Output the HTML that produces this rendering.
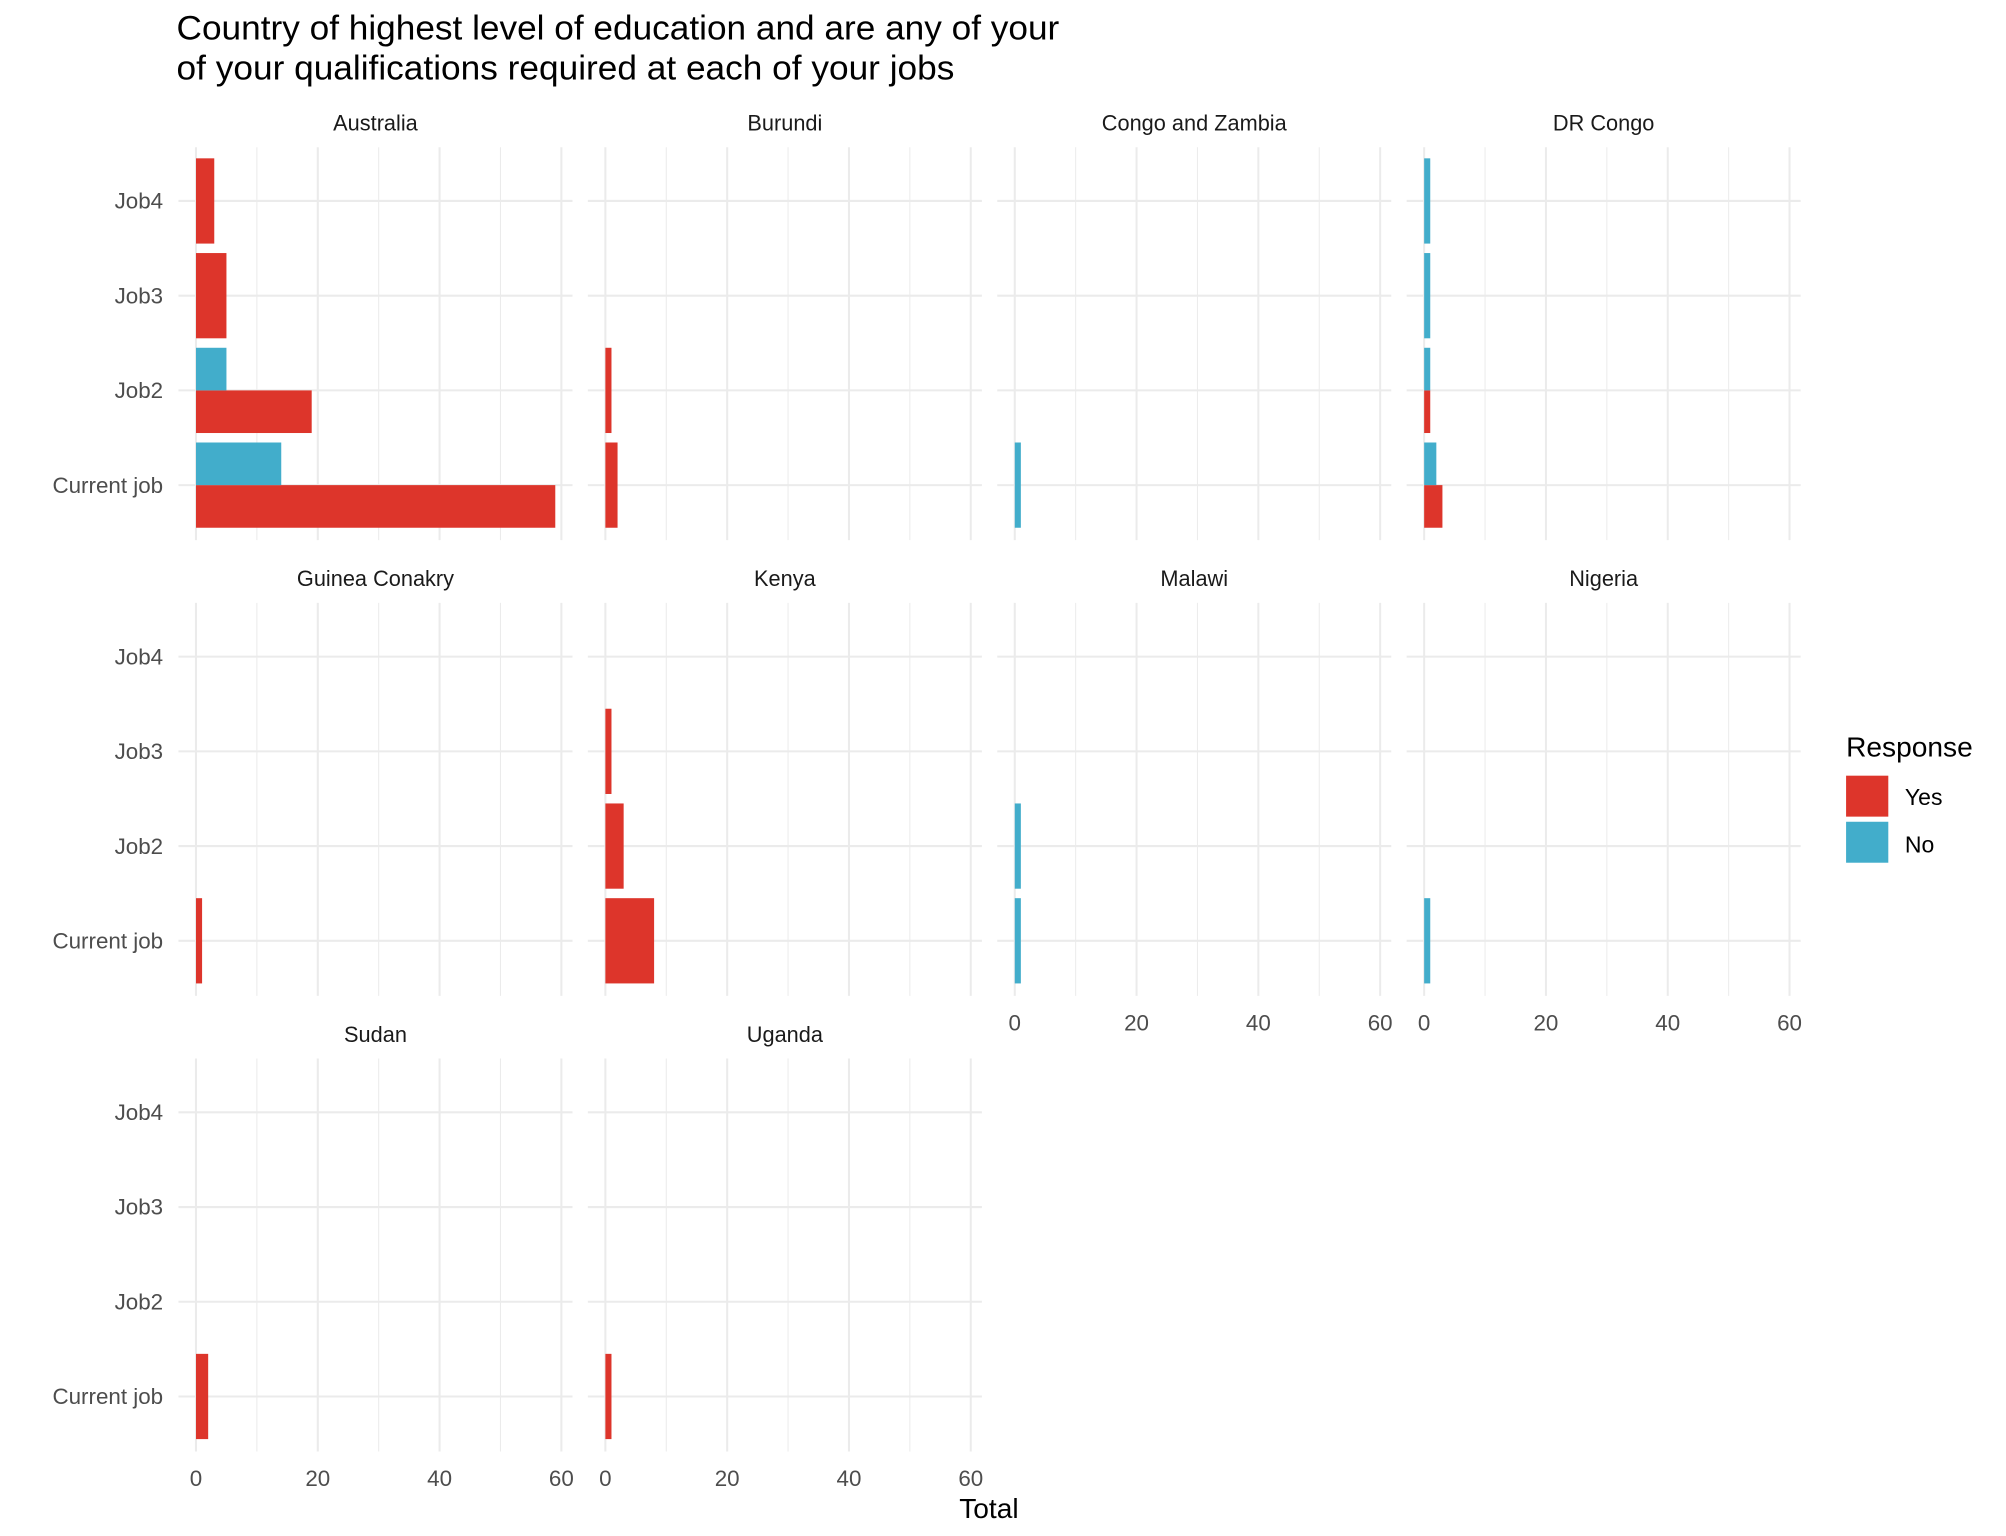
<!DOCTYPE html>
<html><head><meta charset="utf-8"><style>
html,body{margin:0;padding:0;background:#fff;}
svg{display:block;font-family:"Liberation Sans",Arial,sans-serif;}
</style></head><body>
<svg id="chart" width="2006" height="1536" viewBox="0 0 1568 1200" preserveAspectRatio="none" xmlns="http://www.w3.org/2000/svg">
<text x="138" y="31" font-size="27" fill="#000" textLength="690" lengthAdjust="spacingAndGlyphs">Country of highest level of education and are any of your</text>
<text x="138" y="62" font-size="27" fill="#000" textLength="608" lengthAdjust="spacingAndGlyphs">of your qualifications required at each of your jobs</text>
<g id="panels"></g>
<text x="773" y="1186" font-size="22" text-anchor="middle" fill="#000">Total</text>
<g>
<text x="1443" y="591" font-size="22" fill="#000">Response</text>
<rect x="1443" y="606" width="33" height="32" fill="#DD352B"/>
<text x="1489" y="629" font-size="18" fill="#000">Yes</text>
<rect x="1443" y="642" width="33" height="32" fill="#42ADCB"/>
<text x="1489" y="666" font-size="18" fill="#000">No</text>
</g>
</svg>
<script>
const countries=["Australia","Burundi","Congo and Zambia","DR Congo","Guinea Conakry","Kenya","Malawi","Nigeria","Sudan","Uganda"];
const jobs=["Current job","Job2","Job3","Job4"];
// values per country: [Current job, Job2, Job3, Job4]
const yesValues=[[59,19,5,3],[2,1,0,0],[0,0,0,0],[3,1,0,0],[1,0,0,0],[8,3,1,0],[0,0,0,0],[0,0,0,0],[2,0,0,0],[1,0,0,0]];
const noValues=[[14,5,0,0],[0,0,0,0],[1,0,0,0],[2,1,1,1],[0,0,0,0],[0,0,0,0],[1,1,0,0],[1,0,0,0],[0,0,0,0],[0,0,0,0]];
const xTicks=[0,20,40,60];
const xMinor=[10,30,50];

const NS="http://www.w3.org/2000/svg";
const g=document.getElementById("panels");
function mk(tag,attrs,parent){const e=document.createElementNS(NS,tag);for(const k in attrs)e.setAttribute(k,attrs[k]);(parent||g).appendChild(e);return e;}
const PW=308,PH=307,colStep=320,rowStep=356,left0=139.5,top0=115;
const unit=(285.6)/60, zeroOff=13.7, catStep=74;
const bandH=catStep*0.9;
countries.forEach((c,i)=>{
  const col=i%4,row=Math.floor(i/4);
  const L=left0+col*colStep,T=top0+row*rowStep;
  const xs=v=>L+zeroOff+v*unit;
  const ys=k=>T+264-k*catStep;
  const pg=mk("g",{});
  
  
  const st=mk("text",{x:L+PW/2,y:T-13,"font-size":17,"text-anchor":"middle",fill:"#1a1a1a"},pg);
  st.textContent=c;
  
  
  xMinor.forEach(v=>{const l=mk("line",{x1:xs(v),x2:xs(v),y1:T,y2:T+PH,stroke:"#ebebeb","stroke-width":0.8},pg);
    });
  xTicks.forEach(v=>{const l=mk("line",{x1:xs(v),x2:xs(v),y1:T,y2:T+PH,stroke:"#ebebeb","stroke-width":1.6},pg);
    });
  jobs.forEach((j,k)=>{const l=mk("line",{x1:L,x2:L+PW,y1:ys(k),y2:ys(k),stroke:"#ebebeb","stroke-width":1.6},pg);
    });
  jobs.forEach((j,k)=>{
    const y=yesValues[i][k],n=noValues[i][k],cy=ys(k);
    if(y>0&&n>0){
      const r1=mk("rect",{x:xs(0),y:cy,width:y*unit,height:bandH/2,fill:"#DD352B"},pg);
      
      const r2=mk("rect",{x:xs(0),y:cy-bandH/2,width:n*unit,height:bandH/2,fill:"#42ADCB"},pg);
      
    }else if(y>0){
      const r=mk("rect",{x:xs(0),y:cy-bandH/2,width:y*unit,height:bandH,fill:"#DD352B"},pg);
      
    }else if(n>0){
      const r=mk("rect",{x:xs(0),y:cy-bandH/2,width:n*unit,height:bandH,fill:"#42ADCB"},pg);
      
    }
  });
  if(col===0){
    jobs.forEach((j,k)=>{const t=mk("text",{x:L-12,y:ys(k)+6,"font-size":17.5,"text-anchor":"end",fill:"#4d4d4d"},pg);
      t.textContent=j;});
  }
  const bottom=(i+4>=countries.length);
  if(bottom){
    xTicks.forEach(v=>{const t=mk("text",{x:xs(v),y:T+PH+27,"font-size":17.5,"text-anchor":"middle",fill:"#4d4d4d"},pg);
      t.textContent=v;});
  }
});
</script>
</body></html>
